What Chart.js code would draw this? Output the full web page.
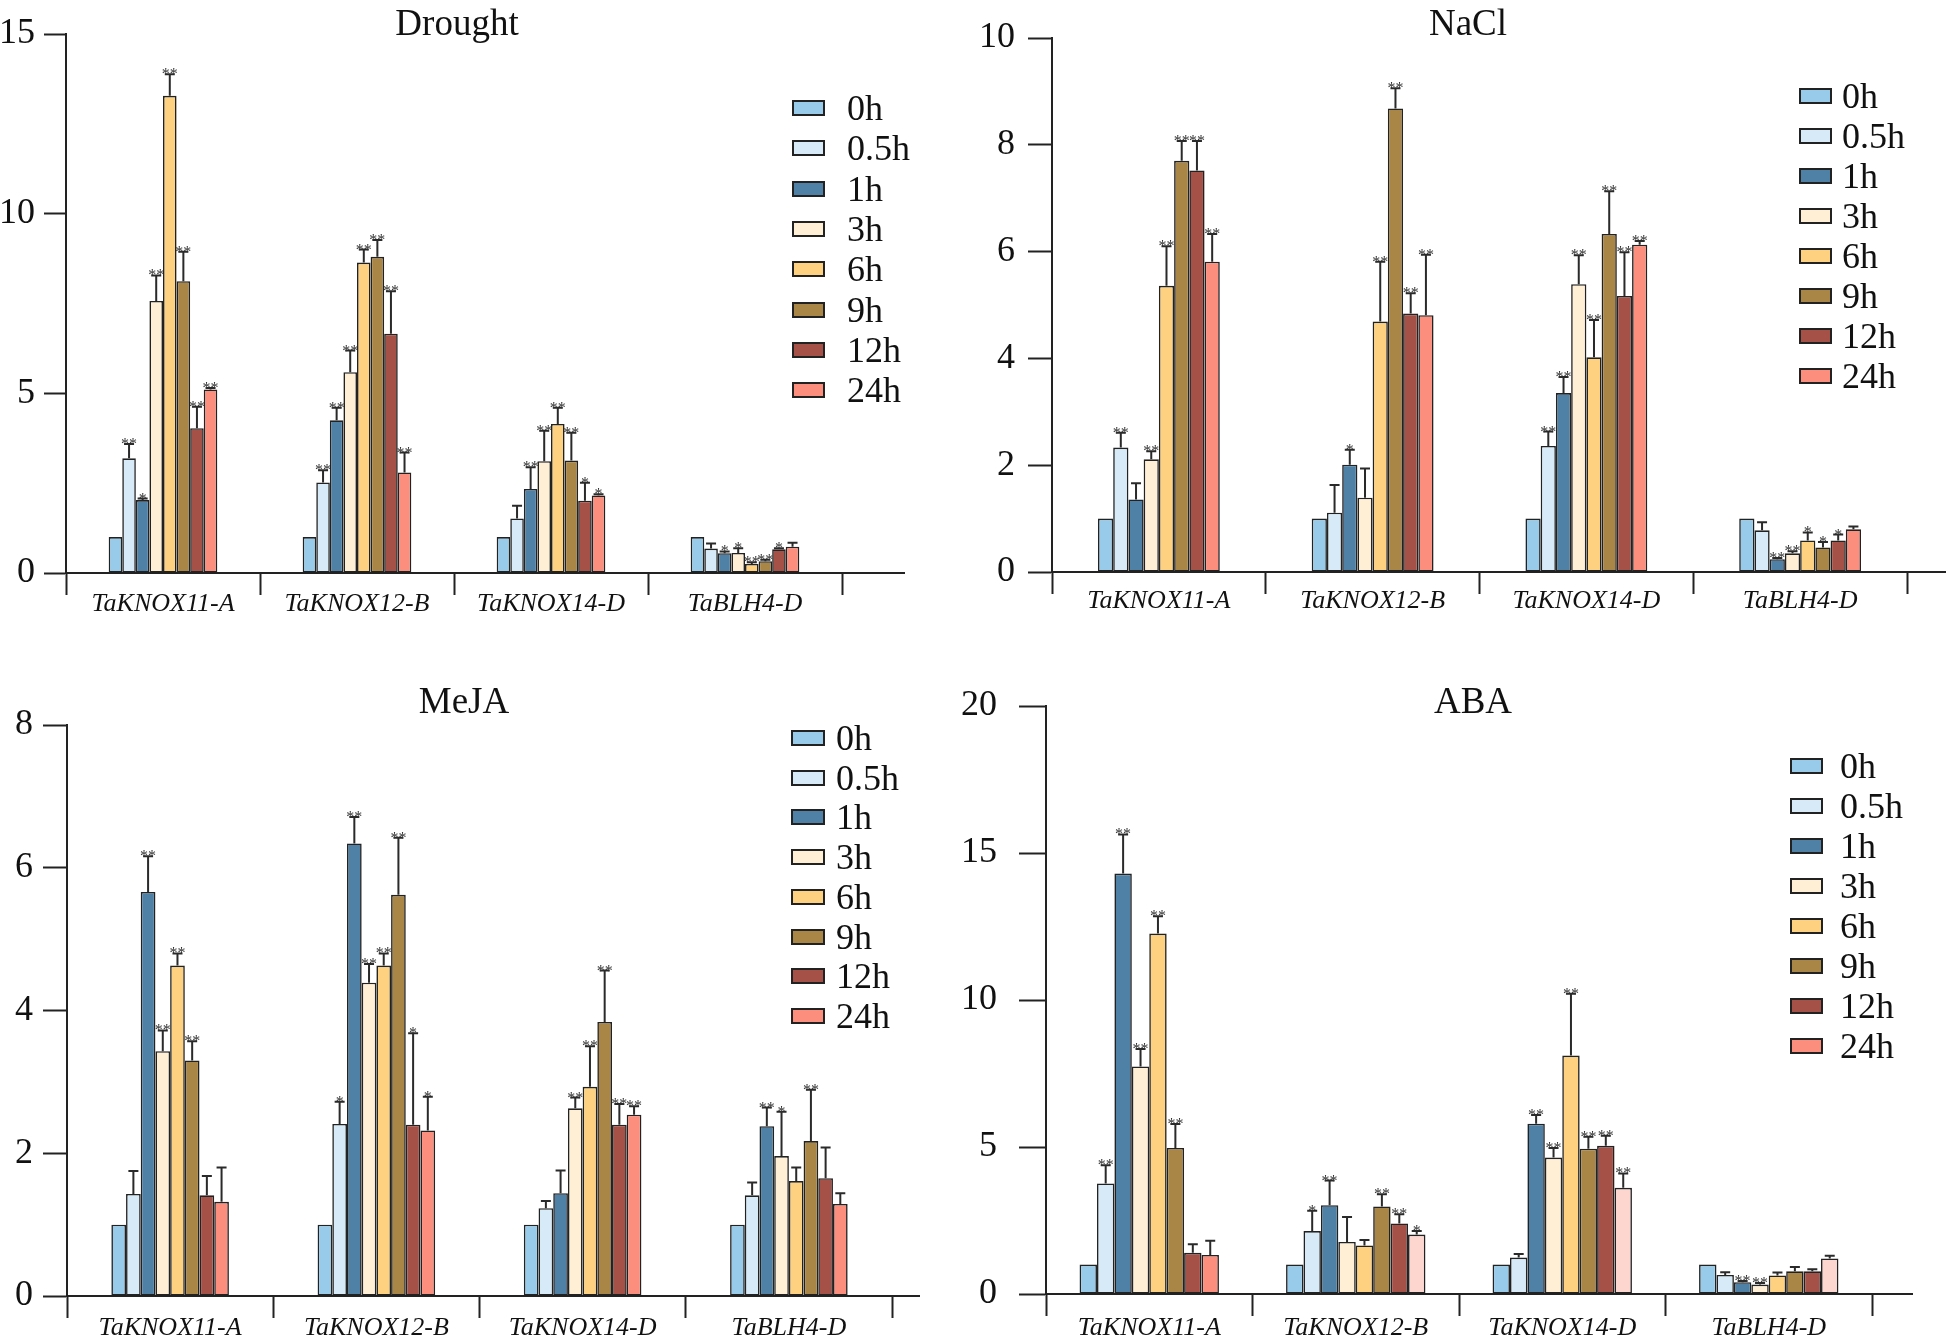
<!DOCTYPE html>
<html>
<head>
<meta charset="utf-8">
<script src="https://cdn.jsdelivr.net/npm/chart.js@4.4.1/dist/chart.umd.min.js"></script>
<style>
html, body { margin: 0; padding: 0; background: #fff; }
body { width: 1951px; height: 1340px; position: relative; overflow: hidden; font-family: "Liberation Serif", serif; color: #111; }
canvas { position: absolute; }
.title { position: absolute; font-size: 37px; line-height: 1; transform: translate(-50%, -50%); white-space: nowrap; }
.lg { position: absolute; display: flex; align-items: center; height: 40px; font-size: 36px; line-height: 1; white-space: nowrap; }
.lg i { display: block; box-sizing: border-box; height: 16px; border: 2px solid #222; }
</style>
</head>
<body>
<canvas id="c1" width="975" height="640" style="left:0;top:0"></canvas>
<canvas id="c2" width="1021" height="640" style="left:930px;top:0"></canvas>
<canvas id="c3" width="975" height="690" style="left:0;top:650px"></canvas>
<canvas id="c4" width="1021" height="690" style="left:930px;top:650px"></canvas>
<script>
const genes = ['TaKNOX11-A', 'TaKNOX12-B', 'TaKNOX14-D', 'TaBLH4-D'];
const times = ['0h', '0.5h', '1h', '3h', '6h', '9h', '12h', '24h'];
const timeColors = ['#98CBE9', '#D6EAF8', '#4E81A5', '#FFEFD5', '#FDD17F', '#A98646', '#A65148', '#FC8E7E'];
const abaPink = ['#FC8E7E', '#FDD6D0', '#FDD6D0', '#FDD6D0'];

// rows = genes, columns = time points
const droughtMean = [
  [1.0, 3.19, 2.03, 7.57, 13.28, 8.12, 4.03, 5.11],
  [1.0, 2.52, 4.25, 5.59, 8.64, 8.80, 6.66, 2.80],
  [1.0, 1.52, 2.34, 3.11, 4.15, 3.13, 2.01, 2.16],
  [1.0, 0.68, 0.55, 0.56, 0.25, 0.33, 0.66, 0.73]
];
const droughtErr = [
  [0, 0.40, 0.04, 0.71, 0.60, 0.82, 0.60, 0.04],
  [0, 0.34, 0.35, 0.60, 0.36, 0.47, 1.18, 0.55],
  [0, 0.35, 0.60, 0.85, 0.45, 0.77, 0.50, 0.03],
  [0, 0.14, 0.05, 0.13, 0.05, 0.04, 0.03, 0.11]
];
const droughtSig = [
  ['', '**', '*', '**', '**', '**', '**', '**'],
  ['', '**', '**', '**', '**', '**', '**', '**'],
  ['', '', '**', '**', '**', '**', '*', '*'],
  ['', '', '*', '*', '**', '**', '*', '']
];

const naclMean = [
  [1.0, 2.33, 1.36, 2.11, 5.36, 7.70, 7.52, 5.81],
  [1.0, 1.11, 2.01, 1.39, 4.69, 8.68, 4.84, 4.81],
  [1.0, 2.36, 3.35, 5.39, 4.02, 6.33, 5.17, 6.13],
  [1.0, 0.78, 0.24, 0.35, 0.59, 0.46, 0.59, 0.80]
];
const naclErr = [
  [0, 0.28, 0.30, 0.15, 0.74, 0.37, 0.55, 0.52],
  [0, 0.52, 0.28, 0.55, 1.12, 0.38, 0.38, 1.13],
  [0, 0.27, 0.30, 0.54, 0.70, 0.80, 0.82, 0.07],
  [0, 0.15, 0.02, 0.04, 0.15, 0.10, 0.11, 0.05]
];
const naclSig = [
  ['', '**', '', '**', '**', '**', '**', '**'],
  ['', '', '*', '', '**', '**', '**', '**'],
  ['', '**', '**', '**', '**', '**', '**', '**'],
  ['', '', '**', '**', '*', '*', '*', '']
];

const mejaMean = [
  [1.0, 1.43, 5.66, 3.43, 4.63, 3.30, 1.41, 1.32],
  [1.0, 2.41, 6.34, 4.39, 4.63, 5.62, 2.40, 2.32],
  [1.0, 1.23, 1.44, 2.63, 2.93, 3.84, 2.40, 2.54],
  [1.0, 1.41, 2.38, 1.96, 1.61, 2.17, 1.65, 1.29]
];
const mejaErr = [
  [0, 0.32, 0.50, 0.29, 0.17, 0.27, 0.27, 0.48],
  [0, 0.31, 0.37, 0.26, 0.17, 0.80, 1.28, 0.47],
  [0, 0.10, 0.32, 0.15, 0.57, 0.72, 0.29, 0.12],
  [0, 0.18, 0.26, 0.62, 0.19, 0.72, 0.43, 0.15]
];
const mejaSig = [
  ['', '', '**', '**', '**', '**', '', ''],
  ['', '*', '**', '**', '**', '**', '*', '*'],
  ['', '', '', '**', '**', '**', '**', '**'],
  ['', '', '**', '*', '', '**', '', '']
];

const abaMean = [
  [1.0, 3.76, 14.30, 7.74, 12.26, 4.97, 1.40, 1.33],
  [1.0, 2.14, 3.02, 1.77, 1.65, 2.98, 2.40, 2.02],
  [1.0, 1.24, 5.79, 4.64, 8.11, 4.94, 5.04, 3.61],
  [1.0, 0.65, 0.40, 0.32, 0.63, 0.77, 0.77, 1.21]
];
const abaErr = [
  [0, 0.62, 1.33, 0.59, 0.59, 0.81, 0.29, 0.48],
  [0, 0.69, 0.84, 0.85, 0.19, 0.41, 0.31, 0.12],
  [0, 0.12, 0.30, 0.33, 2.10, 0.41, 0.34, 0.49],
  [0, 0.09, 0.04, 0.05, 0.10, 0.15, 0.07, 0.09]
];
const abaSig = [
  ['', '**', '**', '**', '**', '**', '', ''],
  ['', '*', '**', '', '', '**', '**', '*'],
  ['', '', '**', '**', '**', '**', '**', '**'],
  ['', '', '**', '**', '', '', '', '']
];

const FONT = '"Liberation Serif", "Times New Roman", serif';

// error bars + significance stars, placed through the y scale
const errorBars = {
  id: 'errorBars',
  afterDatasetsDraw(chart) {
    const { ctx } = chart;
    const y = chart.scales.y;
    ctx.save();
    ctx.strokeStyle = '#2a2a2a';
    ctx.fillStyle = '#333';
    ctx.lineWidth = 2;
    ctx.font = '16px ' + FONT;
    ctx.textAlign = 'center';
    ctx.textBaseline = 'alphabetic';
    chart.data.datasets.forEach((ds, i) => {
      chart.getDatasetMeta(i).data.forEach((bar, j) => {
        const e = ds.err[j];
        const top = y.getPixelForValue(ds.data[j] + e);
        if (e > 0) {
          ctx.beginPath();
          ctx.moveTo(bar.x, bar.y);
          ctx.lineTo(bar.x, top);
          ctx.moveTo(bar.x - 5, top);
          ctx.lineTo(bar.x + 5, top);
          ctx.stroke();
        }
        if (ds.sig[j]) ctx.fillText(ds.sig[j], bar.x, top + 5);
      });
    });
    ctx.restore();
  }
};

// x axis line continues a bit past the last category
const axisTail = {
  id: 'axisTail',
  afterDraw(chart, args, opts) {
    const { ctx, chartArea } = chart;
    ctx.save();
    ctx.strokeStyle = '#222';
    ctx.lineWidth = 2;
    ctx.beginPath();
    ctx.moveTo(chartArea.right, chartArea.bottom);
    ctx.lineTo(chartArea.right + opts.ext, chartArea.bottom);
    ctx.stroke();
    ctx.restore();
  }
};

function makePanel(cfg) {
  const datasets = times.map((t, ti) => ({
    label: t,
    data: genes.map((g, gi) => cfg.mean[gi][ti]),
    err: genes.map((g, gi) => cfg.err[gi][ti]),
    sig: genes.map((g, gi) => cfg.sig[gi][ti]),
    backgroundColor: (ti === 7 && cfg.lastColors) ? cfg.lastColors : timeColors[ti],
    borderColor: '#222',
    borderWidth: 1.6,
    borderSkipped: false,
    barPercentage: 1,
    categoryPercentage: cfg.catPct
  }));

  new Chart(document.getElementById(cfg.id), {
    type: 'bar',
    data: { labels: genes, datasets },
    options: {
      responsive: false,
      animation: false,
      layout: { padding: { left: 0, top: cfg.top, right: cfg.right, bottom: 0 } },
      plugins: {
        legend: { display: false },
        tooltip: { enabled: false },
        axisTail: { ext: cfg.ext }
      },
      scales: {
        x: {
          grid: { offset: true, drawOnChartArea: false, tickLength: 22, tickColor: '#222', tickWidth: 2 },
          border: { color: '#222', width: 2 },
          ticks: { color: '#111', padding: cfg.xPad, font: { family: FONT, size: 26, style: 'italic' } },
          afterFit(scale) { scale.height = cfg.xHeight; }
        },
        y: {
          min: 0,
          max: cfg.max,
          ticks: { stepSize: cfg.step, color: '#111', padding: cfg.yPad, font: { family: FONT, size: 36 } },
          grid: { drawOnChartArea: false, tickLength: cfg.yTick, tickColor: '#222', tickWidth: 2 },
          border: { color: '#222', width: 2 },
          afterFit(scale) { scale.width = cfg.yWidth; }
        }
      }
    },
    plugins: [errorBars, axisTail]
  });

  const t = document.createElement('div');
  t.className = 'title';
  t.textContent = cfg.title;
  t.style.left = cfg.titleX + 'px';
  t.style.top = cfg.titleY + 'px';
  document.body.appendChild(t);

  times.forEach((name, ti) => {
    const row = document.createElement('div');
    row.className = 'lg';
    row.style.left = cfg.lgX + 'px';
    row.style.top = (cfg.lgY + ti * cfg.lgStep - 20) + 'px';
    const box = document.createElement('i');
    box.style.width = cfg.lgBox + 'px';
    box.style.marginRight = cfg.lgGap + 'px';
    box.style.background = timeColors[ti];
    row.appendChild(box);
    row.appendChild(document.createTextNode(name));
    document.body.appendChild(row);
  });
}

makePanel({ id: 'c1', title: 'Drought', mean: droughtMean, err: droughtErr, sig: droughtSig,
  max: 15, step: 5, top: 34, right: 133, yWidth: 66, yTick: 22, yPad: 9, xHeight: 67, xPad: -6,
  catPct: 0.56, ext: 63, titleX: 457, titleY: 22,
  lgX: 792, lgY: 108, lgStep: 40.3, lgBox: 33, lgGap: 22 });

makePanel({ id: 'c2', title: 'NaCl', mean: naclMean, err: naclErr, sig: naclSig,
  max: 10, step: 2, top: 38, right: 44, yWidth: 122, yTick: 24, yPad: 13, xHeight: 68, xPad: -8,
  catPct: 0.57, ext: 39, titleX: 1468, titleY: 22,
  lgX: 1799, lgY: 96, lgStep: 40, lgBox: 33, lgGap: 10 });

makePanel({ id: 'c3', title: 'MeJA', mean: mejaMean, err: mejaErr, sig: mejaSig,
  max: 8, step: 2, top: 75, right: 83, yWidth: 67, yTick: 24, yPad: 10, xHeight: 44, xPad: -5,
  catPct: 0.57, ext: 28, titleX: 464, titleY: 700,
  lgX: 791, lgY: 738, lgStep: 39.7, lgBox: 34, lgGap: 11 });

makePanel({ id: 'c4', title: 'ABA', mean: abaMean, err: abaErr, sig: abaSig, lastColors: abaPink,
  max: 20, step: 5, top: 56, right: 79, yWidth: 116, yTick: 27, yPad: 22, xHeight: 46, xPad: -3,
  catPct: 0.675, ext: 41, titleX: 1473, titleY: 700,
  lgX: 1790, lgY: 766, lgStep: 40, lgBox: 33, lgGap: 17 });
</script>
</body>
</html>
